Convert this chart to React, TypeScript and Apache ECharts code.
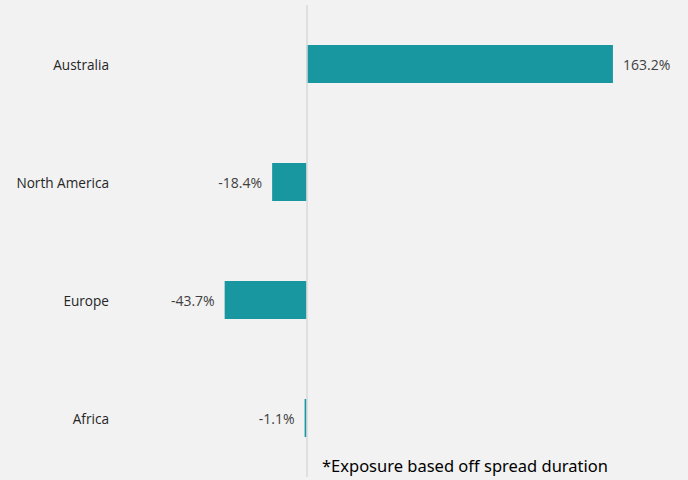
import React, { useEffect, useRef } from "react";
import * as echarts from "echarts";

const categories = ["Australia", "North America", "Europe", "Africa"];
const exposure = [163.2, -18.4, -43.7, -1.1];
const footnote = "*Exposure based off spread duration";

export default function App() {
  const ref = useRef<HTMLDivElement>(null);
  useEffect(() => {
    document.body.style.margin = "0";
    const chart = echarts.init(ref.current!, null, { renderer: "svg" });
    chart.setOption({
      animation: false,
      backgroundColor: "#f2f2f2",
      grid: { left: 119, right: 6, top: 5, bottom: 3 },
      xAxis: {
        type: "value",
        min: -100,
        max: 200,
        axisLabel: { show: false },
        axisLine: { show: false },
        axisTick: { show: false },
        splitLine: { show: false },
      },
      yAxis: {
        type: "category",
        data: categories,
        inverse: true,
        axisLine: { show: false },
        axisTick: { show: false },
        axisLabel: {
          margin: 10,
          color: "#262626",
          fontSize: 13.6,
          fontFamily: "Open Sans",
        },
      },
      series: [
        {
          type: "bar",
          barWidth: 38,
          itemStyle: { color: "#1897a0" },
          data: exposure.map((v) => ({
            value: v,
            label: {
              show: true,
              position: v >= 0 ? "right" : "left",
              distance: 10,
              formatter: (p: any) => p.value.toFixed(1) + "%",
              color: "#404040",
              fontSize: 14,
              fontFamily: "Open Sans",
            },
          })),
          markLine: {
            silent: true,
            symbol: "none",
            label: { show: false },
            lineStyle: { color: "#d9d9d9", type: "solid", width: 1.5 },
            data: [{ xAxis: 0 }],
          },
        },
      ],
      graphic: [
        {
          type: "text",
          left: 322,
          top: 457,
          style: {
            text: footnote,
            fill: "#000000",
            fontSize: 16.5,
            fontFamily: "Noto Sans",
          },
        },
      ],
    });
    return () => chart.dispose();
  }, []);
  return <div ref={ref} style={{ width: 688, height: 480 }} />;
}
